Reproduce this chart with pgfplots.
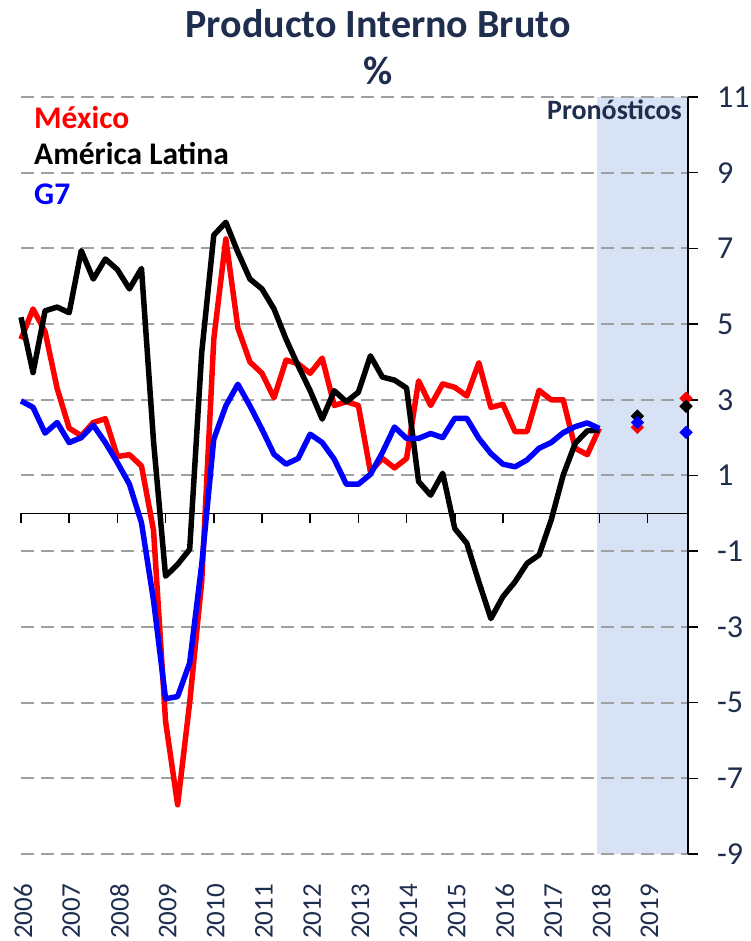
\documentclass[border=0pt]{standalone}
\usepackage{fontspec}
\setmainfont{Carlito}
\usepackage{pgfplots}
\usepackage{pgfplotstable}
\pgfplotsset{compat=1.18}
\definecolor{navy}{RGB}{31,45,78}
\definecolor{band}{RGB}{215,227,245}
\definecolor{gridgray}{RGB}{160,160,160}

\pgfplotstableread{
x mex lat gs
2006.00 4.6 5.18 2.97
2006.25 5.4 3.72 2.80
2006.50 4.8 5.35 2.12
2006.75 3.3 5.45 2.40
2007.00 2.25 5.30 1.87
2007.25 2.05 6.94 2.00
2007.50 2.4 6.19 2.33
2007.75 2.5 6.72 1.87
2008.00 1.5 6.44 1.34
2008.25 1.55 5.93 0.77
2008.50 1.25 6.47 -0.25
2008.75 -0.45 1.9 -2.3
2009.00 -5.5 -1.66 -4.9
2009.25 -7.7 -1.35 -4.84
2009.50 -5.0 -0.95 -3.95
2009.75 -1.8 4.25 -1.35
2010.00 4.6 7.35 1.96
2010.25 7.25 7.69 2.84
2010.50 4.9 6.9 3.41
2010.75 4.0 6.19 2.84
2011.00 3.7 5.93 2.22
2011.25 3.05 5.40 1.56
2011.50 4.05 4.6 1.30
2011.75 3.95 3.9 1.45
2012.00 3.7 3.24 2.09
2012.25 4.1 2.49 1.87
2012.50 2.85 3.24 1.43
2012.75 2.95 2.95 0.77
2013.00 2.85 3.2 0.77
2013.25 1.1 4.16 1.03
2013.50 1.45 3.6 1.61
2013.75 1.2 3.52 2.28
2014.00 1.45 3.31 1.98
2014.25 3.5 0.84 1.98
2014.50 2.85 0.48 2.11
2014.75 3.42 1.06 2.00
2015.00 3.33 -0.40 2.51
2015.25 3.1 -0.79 2.51
2015.50 3.98 -1.81 1.98
2015.75 2.8 -2.78 1.58
2016.00 2.88 -2.2 1.30
2016.25 2.16 -1.81 1.23
2016.50 2.16 -1.32 1.41
2016.75 3.25 -1.10 1.72
2017.00 3.0 -0.18 1.87
2017.25 3.0 1.01 2.13
2017.50 1.72 1.85 2.29
2017.75 1.55 2.18 2.39
2018.00 2.25 2.20 2.24
}\datatable

\pgfplotstableread{
x mex lat gs
2018.79 2.27 2.57 2.40
2019.80 3.04 2.83 2.14
}\forecast

\begin{document}
\begin{tikzpicture}
\begin{axis}[
  at={(21pt,87pt)}, anchor=south west,
  set layers,
  scale only axis, width=667pt, height=757pt,
  xmin=2006, xmax=2019.84, ymin=-9, ymax=11,
  axis y line*=right,
  axis x line*=bottom,
  x axis line style={draw=none},
  y axis line style={black, line width=1.5pt},
  xtick={2006,2007,2008,2009,2010,2011,2012,2013,2014,2015,2016,2017,2018,2019},
  xticklabels={2006,2007,2008,2009,2010,2011,2012,2013,2014,2015,2016,2017,2018,2019},
  xtick style={draw=none},
  ytick={-9,-7,-5,-3,-1,1,3,5,7,9,11},
  ytick style={black, line width=1.5pt},
  tick align=outside,
  major tick length=10pt,
  ymajorgrids,
  grid style={gridgray, dash pattern=on 13pt off 7pt, line width=2pt},
  /pgf/number format/assume math mode=true,
  yticklabel style={font=\fontsize{32}{38}\selectfont, text=navy, anchor=west, inner sep=0pt, xshift=19pt},
  xticklabel style={font=\fontsize{27}{32}\selectfont, text=navy, yshift=-20pt, xshift=2pt, rotate=90, anchor=east, inner sep=0pt},
  clip=false,
]
\begin{pgfonlayer}{axis background}
\fill[band] (axis cs:2017.95,-9) rectangle (axis cs:2019.84,11);
\end{pgfonlayer}
\draw[black, line width=1.5pt] (axis cs:2006,0) -- (axis cs:2019.84,0);
\pgfplotsinvokeforeach{2006,2007,2008,2009,2010,2011,2012,2013,2014,2015,2016,2017,2018,2019}{
  \draw[black, line width=1.5pt] (axis cs:#1,0) -- ++(0pt,-10pt);
}
\addplot[red, line width=5.5pt, line join=round, no marks] table[x=x, y=mex] {\datatable};
\addplot[black, line width=5.5pt, line join=round, no marks] table[x=x, y=lat] {\datatable};
\addplot[blue, line width=5.5pt, line join=round, no marks] table[x=x, y=gs] {\datatable};
\addplot[only marks, mark=square*, mark size=4.5pt, mark options={rotate=45, red, draw=red}] table[x=x, y=mex] {\forecast};
\addplot[only marks, mark=square*, mark size=4.5pt, mark options={rotate=45, black, draw=black}] table[x=x, y=lat] {\forecast};
\addplot[only marks, mark=square*, mark size=4.5pt, mark options={rotate=45, blue, draw=blue}] table[x=x, y=gs] {\forecast};
\end{axis}
\node[anchor=base, inner sep=0pt, font=\bfseries\fontsize{40}{48}\selectfont, text=navy] at (378pt,903pt) {Producto Interno Bruto};
\node[anchor=base, inner sep=0pt, font=\bfseries\fontsize{40}{48}\selectfont, text=navy] at (378pt,856pt) {\%};
\node[anchor=base west, inner sep=0pt, text=red, font=\bfseries\fontsize{31.5}{36}\selectfont] at (34pt,812pt) {México};
\node[anchor=base west, inner sep=0pt, text=black, font=\bfseries\fontsize{31.5}{36}\selectfont] at (34pt,776pt) {América Latina};
\node[anchor=base west, inner sep=0pt, text=blue, font=\bfseries\fontsize{31.5}{36}\selectfont] at (34pt,736pt) {G7};
\node[anchor=base east, inner sep=0pt, text=navy, font=\bfseries\fontsize{28}{33}\selectfont] at (682pt,821pt) {Pronósticos};
\pgfresetboundingbox
\path[use as bounding box] (0,0) rectangle (751pt,941pt);
\end{tikzpicture}
\end{document}
